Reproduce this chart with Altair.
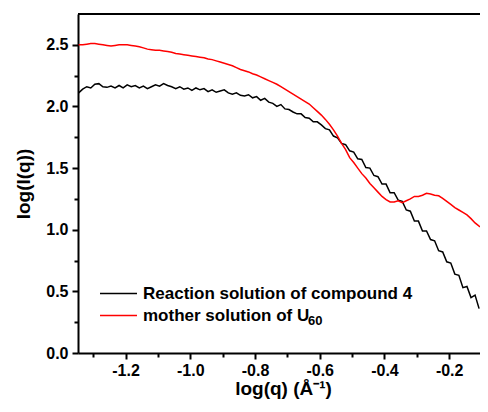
import altair as alt
import pandas as pd

# log(q) sample positions (Å^-1, log10)
Q_LOG = [-1.345, -1.3325, -1.32, -1.3075, -1.295, -1.2825, -1.27, -1.2575, -1.245, -1.2325,
         -1.22, -1.2075, -1.195, -1.1825, -1.17, -1.1575, -1.145, -1.1325, -1.12, -1.1075,
         -1.095, -1.0825, -1.07, -1.0575, -1.045, -1.0325, -1.02, -1.0075, -0.995, -0.9825,
         -0.97, -0.9575, -0.945, -0.9325, -0.92, -0.9075, -0.895, -0.8825, -0.87, -0.8575,
         -0.845, -0.8325, -0.82, -0.8075, -0.795, -0.7825, -0.77, -0.7575, -0.745, -0.7325,
         -0.72, -0.7075, -0.695, -0.6825, -0.67, -0.6575, -0.645, -0.6325, -0.62, -0.6075,
         -0.595, -0.5825, -0.57, -0.5575, -0.545, -0.5325, -0.52, -0.5075, -0.495, -0.4825,
         -0.47, -0.4575, -0.445, -0.4325, -0.42, -0.4075, -0.395, -0.3825, -0.37, -0.3575,
         -0.345, -0.3325, -0.32, -0.3075, -0.295, -0.2825, -0.27, -0.2575, -0.245, -0.2325,
         -0.22, -0.2075, -0.195, -0.1825, -0.17, -0.1575, -0.145, -0.1325, -0.12, -0.1075,
         -0.095]

# log(I(q)) of the reaction solution of compound 4 (black)
I_REACTION = [2.11, 2.14, 2.16, 2.15, 2.18, 2.185, 2.16, 2.155, 2.165, 2.15,
              2.17, 2.15, 2.175, 2.16, 2.17, 2.15, 2.165, 2.145, 2.16, 2.175,
              2.165, 2.185, 2.17, 2.16, 2.145, 2.16, 2.14, 2.15, 2.13, 2.15,
              2.135, 2.145, 2.12, 2.135, 2.115, 2.125, 2.135, 2.11, 2.10, 2.11,
              2.09, 2.085, 2.095, 2.07, 2.08, 2.05, 2.065, 2.035, 2.025, 2.00,
              2.015, 1.98, 1.975, 1.955, 1.94, 1.94, 1.91, 1.905, 1.875, 1.875,
              1.85, 1.82, 1.81, 1.76, 1.745, 1.70, 1.69, 1.64, 1.63, 1.575,
              1.57, 1.505, 1.50, 1.44, 1.43, 1.37, 1.37, 1.30, 1.30, 1.24,
              1.23, 1.16, 1.15, 1.07, 1.07, 0.99, 0.99, 0.92, 0.91, 0.83,
              0.82, 0.74, 0.73, 0.64, 0.63, 0.53, 0.54, 0.45, 0.47, 0.36]

# log(I(q)) of the mother solution of U60 (red)
I_MOTHER = [2.50, 2.50, 2.505, 2.51, 2.51, 2.505, 2.50, 2.495, 2.49, 2.495,
            2.50, 2.50, 2.50, 2.495, 2.49, 2.485, 2.475, 2.465, 2.46, 2.455,
            2.455, 2.45, 2.445, 2.44, 2.43, 2.425, 2.42, 2.415, 2.41, 2.405,
            2.40, 2.395, 2.385, 2.38, 2.37, 2.36, 2.35, 2.34, 2.33, 2.315,
            2.30, 2.29, 2.28, 2.265, 2.255, 2.24, 2.225, 2.21, 2.195, 2.18,
            2.16, 2.14, 2.12, 2.10, 2.08, 2.06, 2.04, 2.02, 1.99, 1.96,
            1.93, 1.895, 1.855, 1.81, 1.76, 1.70, 1.65, 1.585, 1.545, 1.50,
            1.455, 1.42, 1.375, 1.34, 1.305, 1.27, 1.245, 1.225, 1.225, 1.235,
            1.22, 1.235, 1.25, 1.27, 1.27, 1.28, 1.295, 1.29, 1.28, 1.275,
            1.255, 1.23, 1.205, 1.18, 1.16, 1.14, 1.12, 1.09, 1.055, 1.03,
            1.01]

SERIES = ["Reaction solution of compound 4", "mother solution of U"]
SUBSCRIPT = "60"
X_TICKS = [-1.3, -1.2, -1.1, -1.0, -0.9, -0.8, -0.7, -0.6, -0.5, -0.4, -0.3, -0.2, -0.1]
Y_TICKS = [0.0, 0.25, 0.5, 0.75, 1.0, 1.25, 1.5, 1.75, 2.0, 2.25, 2.5]

rows = []
for q, v in zip(Q_LOG, I_REACTION):
    rows.append({"q": q, "I": v, "series": SERIES[0]})
for q, v in zip(Q_LOG, I_MOTHER):
    rows.append({"q": q, "I": v, "series": SERIES[1]})
df = pd.DataFrame(rows)

W, H = 410, 339
FONT = "Liberation Sans"

lines = alt.Chart(df).mark_line(strokeWidth=1.5, clip=True).encode(
    x=alt.X("q:Q",
            scale=alt.Scale(domain=[-1.347, -0.08], nice=False, zero=False),
            axis=alt.Axis(values=X_TICKS, title="log(q) (Å⁻¹)",
                          labelExpr="round(datum.value*10) % 2 == 0 ? '-' + format(abs(datum.value), '.1f') : ''",
                          tickSize={"condition": {"test": "round(datum.value*10) % 2 == 0", "value": 6}, "value": 4},
                          labelPadding=3, titlePadding=1)),
    y=alt.Y("I:Q",
            scale=alt.Scale(domain=[0, 2.75], nice=False),
            axis=alt.Axis(values=Y_TICKS, title="log(I(q))",
                          labelExpr="round(datum.value*4) % 2 == 0 ? format(datum.value, '.1f') : ''",
                          tickSize={"condition": {"test": "round(datum.value*4) % 2 == 0", "value": 6}, "value": 4},
                          labelPadding=4, titlePadding=12)),
    color=alt.Color("series:N",
                    scale=alt.Scale(domain=SERIES, range=["#000000", "#ff0000"]),
                    legend=alt.Legend(title=None, orient="none", legendX=32, legendY=271,
                                      symbolType="M-3,0L3,0", symbolSize=152, symbolStrokeWidth=1.5,
                                      labelFont=FONT, labelFontSize=17, labelFontWeight="bold",
                                      labelColor="black", labelOffset=16, labelLimit=400,
                                      padding=0, rowPadding=4)),
)

top = alt.Chart(pd.DataFrame({"a": [0]})).mark_rule(color="black", strokeWidth=2).encode(
    x=alt.value(0), x2=alt.value(W), y=alt.value(0)
)

sub = alt.Chart(pd.DataFrame({"t": [SUBSCRIPT]})).mark_text(
    font=FONT, fontSize=13, fontWeight="bold", color="black", align="left", baseline="alphabetic"
).encode(text="t:N", x=alt.value(230), y=alt.value(311))

chart = alt.layer(lines, top, sub).properties(
    width=W, height=H,
    autosize=alt.AutoSizeParams(type="none"),
    padding={"left": 70, "top": 6, "right": -8, "bottom": 47},
).configure_view(stroke=None).configure_axis(
    domainColor="black", domainWidth=2, tickColor="black", tickWidth=2,
    labelFont=FONT, labelFontSize=16, labelFontWeight="bold", labelColor="black",
    titleFont=FONT, titleFontSize=19, titleFontWeight="bold",
    titleColor="black", grid=False,
)

chart.save("out.html", embed_options={"renderer": "svg", "actions": False})
